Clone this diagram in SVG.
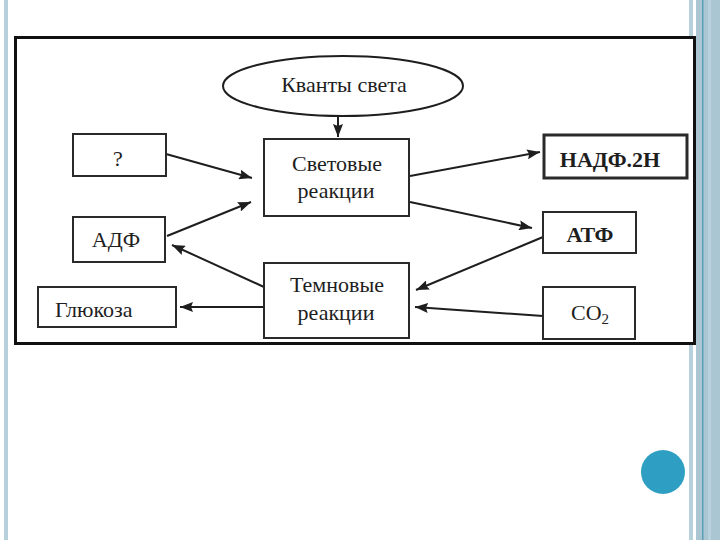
<svg xmlns="http://www.w3.org/2000/svg" width="720" height="540" viewBox="0 0 720 540">
<style>
.box{fill:#fff;stroke:#2a2a2a;stroke-width:2}
.txt{font-family:"Liberation Serif","Times New Roman",serif;font-size:22px;fill:#1e1e1e;text-anchor:middle}
.con{stroke:#1e1e1e;stroke-width:2;fill:none;marker-end:url(#ah)}
</style>
<defs>
<marker id="ah" markerUnits="userSpaceOnUse" markerWidth="14" markerHeight="10" refX="13" refY="5" orient="auto">
<path d="M0,0 L13,5 L0,10 L2,5 z" fill="#1e1e1e"/>
</marker>
</defs>
<rect x="0" y="0" width="720" height="540" fill="#fff"/>
<g id="decor">
<rect x="4" y="0" width="4" height="540" fill="#b7d1dc"/>
<rect x="689" y="0" width="4" height="540" fill="#b7d1dc"/>
<rect x="696" y="0" width="24" height="540" fill="#abc6d3"/>
<rect x="702" y="0" width="1.5" height="540" fill="#5a9fb6"/>
<rect x="708" y="0" width="3" height="540" fill="#b9d2dd"/>
<circle cx="663" cy="472" r="22" fill="#2e9fc2"/>
</g>
<g id="frame">
<rect x="15.5" y="37.5" width="679" height="306" fill="#fff" stroke="#111" stroke-width="3"/>
</g>
<g id="connectors">
<line class="con" x1="338" y1="117" x2="338" y2="137"/>
<line class="con" x1="166" y1="154" x2="252" y2="178"/>
<line class="con" x1="167" y1="236" x2="251" y2="202"/>
<line class="con" x1="410" y1="176" x2="540" y2="152"/>
<line class="con" x1="410" y1="202" x2="532" y2="228"/>
<line class="con" x1="543" y1="237" x2="416" y2="290"/>
<line class="con" x1="543" y1="316" x2="415" y2="307"/>
<line class="con" x1="264" y1="287" x2="172" y2="245"/>
<line class="con" x1="264" y1="307" x2="180" y2="307"/>
</g>
<g id="kvanty">
<ellipse cx="343" cy="86" rx="120" ry="30" fill="#fff" stroke="#1e1e1e" stroke-width="2"/>
<text class="txt" x="344" y="92">Кванты света</text>
</g>
<g id="svetovye">
<rect class="box" x="264" y="139" width="145" height="77"/>
<text class="txt" x="337" y="171">Световые</text>
<text class="txt" x="336" y="198">реакции</text>
</g>
<g id="temnovye">
<rect class="box" x="264" y="263" width="145" height="75"/>
<text class="txt" x="337" y="292">Темновые</text>
<text class="txt" x="336" y="320">реакции</text>
</g>
<g id="question">
<rect class="box" x="73" y="134" width="93" height="42"/>
<text class="txt" x="118" y="166">?</text>
</g>
<g id="adf">
<rect class="box" x="73" y="217" width="92" height="45"/>
<text class="txt" x="116" y="247">АДФ</text>
</g>
<g id="glukoza">
<rect class="box" x="38" y="287" width="138" height="40"/>
<text class="txt" x="55" y="317" style="text-anchor:start">Глюкоза</text>
</g>
<g id="nadf">
<rect class="box" x="544" y="135" width="143" height="43" style="stroke-width:3"/>
<text class="txt" x="610" y="167" style="font-weight:bold">НАДФ.2Н</text>
</g>
<g id="atf">
<rect class="box" x="543" y="212" width="93" height="41"/>
<text class="txt" x="590" y="242" style="font-weight:bold">АТФ</text>
</g>
<g id="co2">
<rect class="box" x="543" y="287" width="92" height="52"/>
<text class="txt" x="590" y="320">CO<tspan font-size="15" dy="4">2</tspan></text>
</g>
</svg>
